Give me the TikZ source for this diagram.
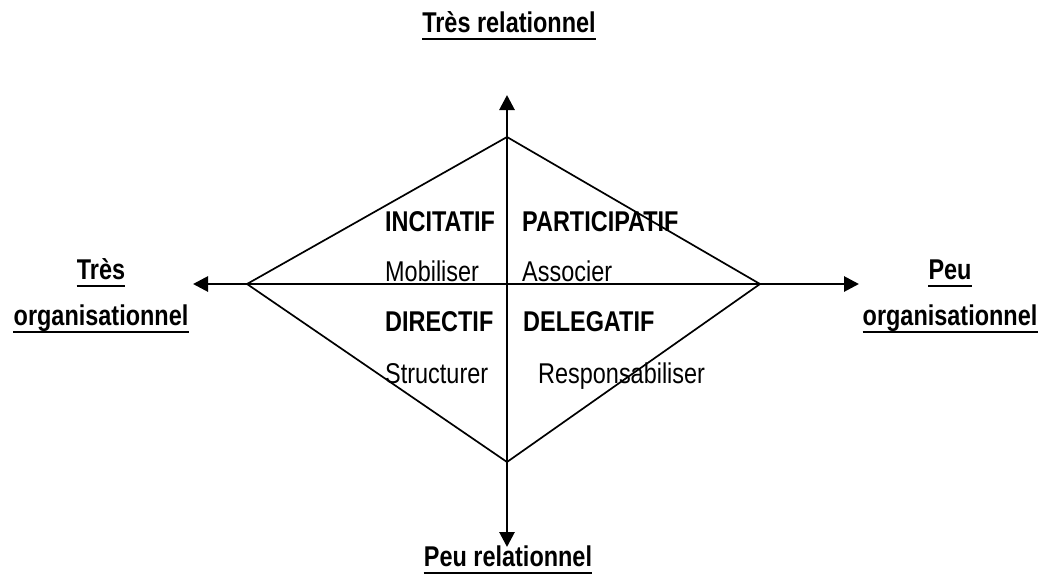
\documentclass[tikz,border=0pt]{standalone}
\usepackage{fontspec}
\setmainfont{Liberation Sans}[FakeStretch=0.82]
\usetikzlibrary{arrows.meta}
\begin{document}
\begin{tikzpicture}[x=1pt,y=-1pt,
  axis/.style={line width=2.8pt,{Triangle[length=15pt,width=15pt]}-{Triangle[length=15pt,width=15pt]}},
  rhomb/.style={line width=1.7pt,line join=miter},
  txt/.style={anchor=base west,inner sep=0pt,font=\fontsize{28.6}{34}\selectfont},
  txtb/.style={txt,font=\fontsize{28.6}{34}\selectfont\bfseries},
  lbl/.style={anchor=base,inner sep=0pt,font=\fontsize{28.6}{34}\selectfont\bfseries},
  uline/.style={line width=2.4pt}]
  \useasboundingbox (0,0) rectangle (1047,579);

  % axis ends and diamond corners
  \coordinate (axT) at (507,95);
  \coordinate (axB) at (507,547);
  \coordinate (axL) at (193,284);
  \coordinate (axR) at (859,284);
  \coordinate (dT) at (507,137);
  \coordinate (dR) at (760,284);
  \coordinate (dB) at (507,462);
  \coordinate (dL) at (247,284);

  \draw[rhomb] (dT) -- (dR) -- (dB) -- (dL) -- cycle;
  \draw[axis] (axB) -- (axT);
  \draw[axis] (axL) -- (axR);

  % quadrant texts
  \node[txtb] (inc) at (385,231) {INCITATIF};
  \node[txtb] (par) at (522,231) {PARTICIPATIF};
  \node[txt] (mob) at (385,281) {Mobiliser};
  \node[txt] (ass) at (522,281) {Associer};
  \node[txtb] (dir) at (385,331) {DIRECTIF};
  \node[txtb] (del) at (523,331) {DELEGATIF};
  \node[txt] (str) at (385,383) {Structurer};
  \node[txt] (res) at (538,383) {Responsabiliser};

  % axis labels
  \node[lbl] (tr) at (509,32) {Très relationnel};
  \node[lbl] (pr) at (508,566) {Peu relationnel};
  \node[lbl] (to1) at (101,279) {Très};
  \node[lbl] (to2) at (101,325) {organisationnel};
  \node[lbl] (po1) at (950,279) {Peu};
  \node[lbl] (po2) at (950,325) {organisationnel};

  \foreach \n in {tr,pr,to1,to2,po1,po2}
    \draw[uline] ([yshift=-7pt]\n.base west) -- ([yshift=-7pt]\n.base east);
\end{tikzpicture}
\end{document}
